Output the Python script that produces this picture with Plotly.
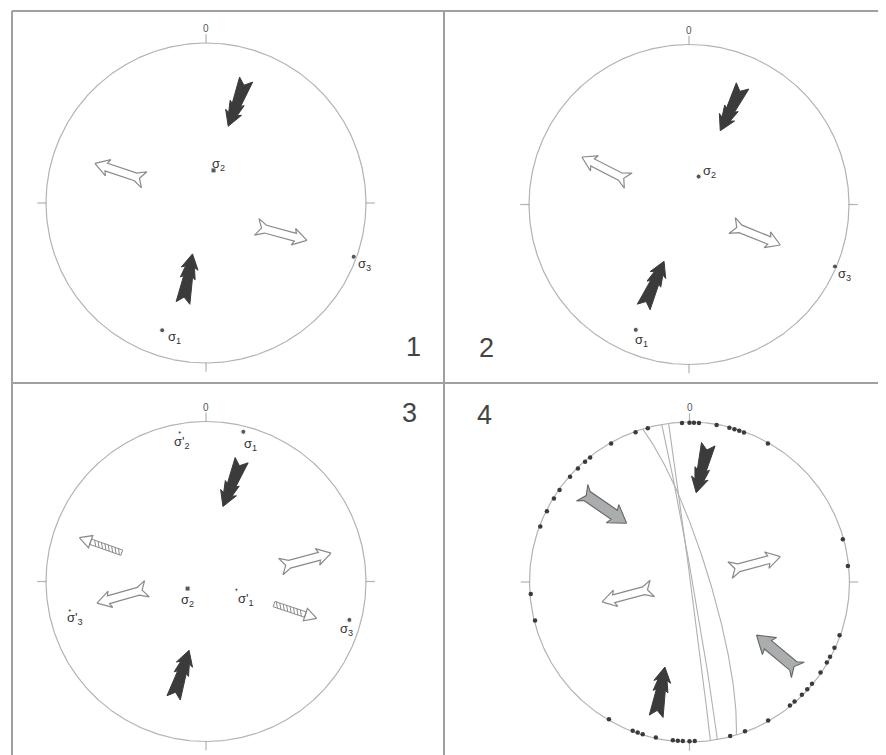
import numpy as np
import plotly.graph_objects as go

# ---------------- data ----------------
# Panel 1 : principal stress axes (trend / plunge, degrees)
P1_LABELS = ["σ<sub>1</sub>", "σ<sub>2</sub>", "σ<sub>3</sub>"]
P1_TREND = [199, 13, 110]
P1_PLUNGE = [17, 73, 2]
P1_SYMBOL = ["circle", "square", "circle"]

# Panel 2
P2_LABELS = ["σ<sub>1</sub>", "σ<sub>2</sub>", "σ<sub>3</sub>"]
P2_TREND = [203, 19, 113]
P2_PLUNGE = [16, 75, 1]
P2_SYMBOL = ["circle", "circle", "circle"]

# Panel 3 (two stress states)
P3_LABELS = ["σ<sub>1</sub>", "σ<sub>2</sub>", "σ<sub>3</sub>",
             "σ'<sub>1</sub>", "σ'<sub>2</sub>", "σ'<sub>3</sub>"]
P3_TREND = [14, 249, 105, 105, 350, 258]
P3_PLUNGE = [4, 80, 8, 74, 6, 14]
P3_SYMBOL = ["circle", "square", "circle", "circle", "circle", "circle"]
P3_PRIMED = [False, False, False, True, True, True]

# Panel 4 : poles / lineations near the primitive (trend, plunge)
P4_TREND = [344.8, 340.2, 330.5, 321.4, 319, 315.5, 311.4, 305.3, 301.6, 296.4,
            290.4, 265.7, 256, 357.3, 0, 1.6, 3.4, 9.8, 14.5, 16.4, 18.2, 20,
            29.5, 74.4, 84.2, 109.5, 114.4, 118, 120.4, 124.6, 129.7, 132.3,
            135.1, 138.7, 140.9, 150.4, 159.6, 165.2, 210.4, 200.9, 199, 197.1,
            192.2, 186, 184.2, 182.4, 180, 178.1]
P4_PLUNGE = [0] * len(P4_TREND)
# Panel 4 : planes (dip direction / dip)
P4_PLANE_DIPDIR = [80, 82.5, 73]
P4_PLANE_DIP = [88.5, 89.5, 80]

# Arrows: kind, pointing azimuth, location (trend & radial distance in net)
P1_ARROW_KIND = ["solid", "solid", "open", "open"]
P1_ARROW_DIR = [201, 11, 288.5, 105]
P1_ARROW_LOC_TREND = [17.3, 193.6, 290, 112]
P1_ARROW_LOC_R = [0.655, 0.485, 0.572, 0.508]

P2_ARROW_KIND = ["solid", "solid", "open", "open"]
P2_ARROW_DIR = [206.5, 24, 297, 112]
P2_ARROW_LOC_TREND = [23.8, 203.8, 293, 114.6]
P2_ARROW_LOC_R = [0.657, 0.544, 0.567, 0.459]

P3_ARROW_KIND = ["solid", "solid", "open", "open", "hatched", "hatched"]
P3_ARROW_DIR = [202, 18, 254, 75, 289.5, 108.5]
P3_ARROW_LOC_TREND = [15, 194.9, 260.3, 77.8, 289, 108.4]
P3_ARROW_LOC_R = [0.635, 0.599, 0.53, 0.636, 0.697, 0.589]

P4_ARROW_KIND = ["solid", "solid", "grey", "grey", "open", "open"]
P4_ARROW_DIR = [194, 10, 124.5, 310, 75, 255]
P4_ARROW_LOC_TREND = [6.4, 194.8, 311, 128.8, 74.1, 258.1]
P4_ARROW_LOC_R = [0.714, 0.709, 0.705, 0.703, 0.424, 0.395]

PANEL_NUMBERS = ["1", "2", "3", "4"]
NORTH_LABEL = "0"

# ---------------- layout / style ----------------
PAGE_OFFSET = 8            # default body margin of the html page
W, H = 886 - PAGE_OFFSET, 755 - PAGE_OFFSET
R = 160.0  # px per net radius
PANEL_BOX = [(12, 444, 11, 383), (444, 886, 11, 383), (12, 444, 383, 755), (444, 886, 383, 755)]
PANEL_CENTER = [(206, 203), (689, 204.5), (206, 581.5), (689.5, 582)]
NUMBER_POS = [(413, 347), (486, 348), (409, 413), (485, 415)]
LABEL_OFFSETS = [
    [(12.7, 7.7), (4.7, -5.7), (10.7, 7.3)],
    [(5.6, 10.7), (10.7, -4.7), (10, 8.3)],
    [(6.7, 12.7), (0, 11.7), (-2.6, 9.3), (10, 10), (2.7, 10.3), (5, 8.3)],
]
CIRCLE_COLOR = "#b3b3b3"
FRAME_COLOR = "#a0a0a0"
DARK = "#3b3b3b"
OPEN_LINE = "#8a8a8a"
GREY_FILL = "#a9adad"
FONT = "Liberation Sans, Arial, sans-serif"
ARROW_LEN = {"solid": 50, "open": 53, "hatched": 45, "grey": 54}


def px_x(x):
    return (x - PAGE_OFFSET) / W


def px_y(y):
    return 1 - (y - PAGE_OFFSET) / H


def project(trend, plunge):
    t = np.radians(np.asarray(trend, float))
    p = np.radians(np.asarray(plunge, float))
    r = np.sqrt(2) * np.sin((np.pi / 2 - p) / 2)
    return r * np.sin(t), r * np.cos(t)


def great_circle(dipdir, dip, n=181):
    dd, d = np.radians(dipdir), np.radians(dip)
    s = dd - np.pi / 2
    sv = np.array([np.sin(s), np.cos(s), 0.0])
    dv = np.array([np.cos(d) * np.sin(dd), np.cos(d) * np.cos(dd), np.sin(d)])
    a = np.linspace(0, np.pi, n)
    v = np.outer(np.cos(a), sv) + np.outer(np.sin(a), dv)
    down = np.clip(v[:, 2], 0, 1)
    plunge = np.degrees(np.arcsin(down))
    trend = np.degrees(np.arctan2(v[:, 0], v[:, 1]))
    return project(trend, plunge)


def arrow_outline(kind, L):
    if kind == "solid":
        return [(L, 0), (L - 15, 8.5), (L - 13, 4.5), (L - 25, 7.5), (L - 23, 4.5), (0, 7), (6, 0),
                (0, -7), (L - 23, -4.5), (L - 25, -7.5), (L - 13, -4.5), (L - 15, -8.5), (L, 0)]
    if kind == "open":
        return [(L, 0), (L - 14, 8.5), (L - 12, 4), (10, 4), (1, 8.5), (6, 0), (1, -8.5), (10, -4),
                (L - 12, -4), (L - 14, -8.5), (L, 0)]
    if kind == "grey":
        return [(L, 0), (L - 17, 11), (L - 15, 5.5), (6, 5.5), (0, 10), (5, 0), (0, -10), (6, -5.5),
                (L - 15, -5.5), (L - 17, -11), (L, 0)]
    # hatched: head only
    return [(L, 0), (L - 12, 6.5), (L - 12, -6.5), (L, 0)]


def to_net(pts, mx, my, az, L):
    a = np.radians(az)
    ux, uy = np.sin(a), np.cos(a)
    px, py = np.cos(a), -np.sin(a)
    xs, ys = [], []
    for p in pts:
        if p is None:
            xs.append(None); ys.append(None); continue
        u, v = p
        xs.append(mx + ((u - L / 2) * ux + v * px) / R)
        ys.append(my + ((u - L / 2) * uy + v * py) / R)
    return xs, ys


fig = go.Figure()
axes = [("x", "y"), ("x2", "y2"), ("x3", "y3"), ("x4", "y4")]

for i, ((x0, x1, y0, y1), (cx, cy)) in enumerate(zip(PANEL_BOX, PANEL_CENTER)):
    sfx = "" if i == 0 else str(i + 1)
    common = dict(visible=False, showgrid=False, zeroline=False, fixedrange=True)
    fig.layout["xaxis" + sfx] = dict(domain=[px_x(x0), min(1, px_x(x1))],
                                     range=[(x0 - cx) / R, (x0 - cx) / R + (min(1, px_x(x1)) - px_x(x0)) * W / R],
                                     anchor="y" + sfx, **common)
    ylo = max(0, px_y(y1))
    fig.layout["yaxis" + sfx] = dict(domain=[ylo, px_y(y0)],
                                     range=[(cy - y0) / R - (px_y(y0) - ylo) * H / R, (cy - y0) / R],
                                     anchor="x" + sfx, **common)
    xa, ya = axes[i]
    th = np.radians(np.linspace(0, 360, 721))
    fig.add_trace(go.Scatter(x=np.sin(th), y=np.cos(th), mode="lines", xaxis=xa, yaxis=ya,
                             line=dict(color=CIRCLE_COLOR, width=1.2), hoverinfo="skip", showlegend=False))
    tx, ty = [], []
    for az in [0, 90, 180, 270]:
        a = np.radians(az)
        tx += [0.995 * np.sin(a), 1.055 * np.sin(a), None]
        ty += [0.995 * np.cos(a), 1.055 * np.cos(a), None]
    fig.add_trace(go.Scatter(x=tx, y=ty, mode="lines", xaxis=xa, yaxis=ya,
                             line=dict(color=CIRCLE_COLOR, width=1.2), hoverinfo="skip", showlegend=False))
    fig.add_annotation(x=0, y=1.09, xref=xa, yref=ya, text=NORTH_LABEL, showarrow=False,
                       font=dict(family=FONT, size=10, color="#555"))

# panel 4 great circles (drawn beneath everything else)
for dd, d in zip(P4_PLANE_DIPDIR, P4_PLANE_DIP):
    gx, gy = great_circle(dd, d)
    fig.add_trace(go.Scatter(x=gx, y=gy, mode="lines", xaxis="x4", yaxis="y4",
                             line=dict(color="#b0b0b0", width=1.1), hoverinfo="skip", showlegend=False))


def add_arrows(kinds, dirs, loc_t, loc_r, xa, ya):
    for k, d, lt, lr in zip(kinds, dirs, loc_t, loc_r):
        L = ARROW_LEN[k]
        mx, my = lr * np.sin(np.radians(lt)), lr * np.cos(np.radians(lt))
        xs, ys = to_net(arrow_outline(k, L), mx, my, d, L)
        if k == "solid":
            fill, lc, lw = DARK, DARK, 1
        elif k == "grey":
            fill, lc, lw = GREY_FILL, "#666", 1.1
        else:
            fill, lc, lw = "white", OPEN_LINE, 1.2
        fig.add_trace(go.Scatter(x=xs, y=ys, mode="lines", fill="toself", fillcolor=fill,
                                 line=dict(color=lc, width=lw), xaxis=xa, yaxis=ya,
                                 hoverinfo="skip", showlegend=False))
        if k == "hatched":
            hw = 2.8
            shaft = [(0, hw), (L - 12, hw), (L - 12, -hw), (0, -hw), (0, hw), None]
            u = 1.5
            while u + 3 <= L - 12:
                shaft += [(u, -hw), (u + 3, hw), None]
                u += 3.6
            sx, sy = to_net(shaft, mx, my, d, L)
            fig.add_trace(go.Scatter(x=sx, y=sy, mode="lines", line=dict(color=OPEN_LINE, width=1),
                                     xaxis=xa, yaxis=ya, hoverinfo="skip", showlegend=False))


add_arrows(P1_ARROW_KIND, P1_ARROW_DIR, P1_ARROW_LOC_TREND, P1_ARROW_LOC_R, "x", "y")
add_arrows(P2_ARROW_KIND, P2_ARROW_DIR, P2_ARROW_LOC_TREND, P2_ARROW_LOC_R, "x2", "y2")
add_arrows(P3_ARROW_KIND, P3_ARROW_DIR, P3_ARROW_LOC_TREND, P3_ARROW_LOC_R, "x3", "y3")
add_arrows(P4_ARROW_KIND, P4_ARROW_DIR, P4_ARROW_LOC_TREND, P4_ARROW_LOC_R, "x4", "y4")


def add_axes_points(labels, trend, plunge, symbols, offsets, xa, ya, primed=None):
    px, py = project(trend, plunge)
    sizes = [3 if (primed and primed[j]) else 5 for j in range(len(labels))]
    fig.add_trace(go.Scatter(x=px, y=py, mode="markers", xaxis=xa, yaxis=ya,
                             marker=dict(color="#111", size=sizes, symbol=symbols),
                             hoverinfo="skip", showlegend=False))
    for j, lab in enumerate(labels):
        dx, dy = offsets[j]
        fig.add_annotation(x=px[j], y=py[j], xref=xa, yref=ya, text=lab, showarrow=False,
                           xshift=dx, yshift=-dy, font=dict(family=FONT, size=13, color="#333"))


add_axes_points(P1_LABELS, P1_TREND, P1_PLUNGE, P1_SYMBOL, LABEL_OFFSETS[0], "x", "y")
add_axes_points(P2_LABELS, P2_TREND, P2_PLUNGE, P2_SYMBOL, LABEL_OFFSETS[1], "x2", "y2")
add_axes_points(P3_LABELS, P3_TREND, P3_PLUNGE, P3_SYMBOL, LABEL_OFFSETS[2], "x3", "y3", P3_PRIMED)

qx, qy = project(P4_TREND, P4_PLUNGE)
fig.add_trace(go.Scatter(x=qx * 0.995, y=qy * 0.995, mode="markers", xaxis="x4", yaxis="y4",
                         marker=dict(color=DARK, size=4.5), hoverinfo="skip", showlegend=False))

for num, (nx, ny) in zip(PANEL_NUMBERS, NUMBER_POS):
    fig.add_annotation(x=px_x(nx), y=px_y(ny), xref="paper", yref="paper", text=num, showarrow=False,
                       font=dict(family=FONT, size=27, color="#444"))

# frame lines
frame = [(12, 11, 886, 11), (12, 11, 12, 755), (444, 11, 444, 755), (12, 383, 886, 383)]
for (a, b, c, d) in frame:
    fig.add_shape(type="line", xref="paper", yref="paper", x0=px_x(a), y0=px_y(b), x1=px_x(c), y1=px_y(d),
                  line=dict(color=FRAME_COLOR, width=2))

fig.update_layout(width=W, height=H, margin=dict(l=0, r=0, t=0, b=0),
                  paper_bgcolor="white", plot_bgcolor="white", showlegend=False)
fig.write_html("out.html")
